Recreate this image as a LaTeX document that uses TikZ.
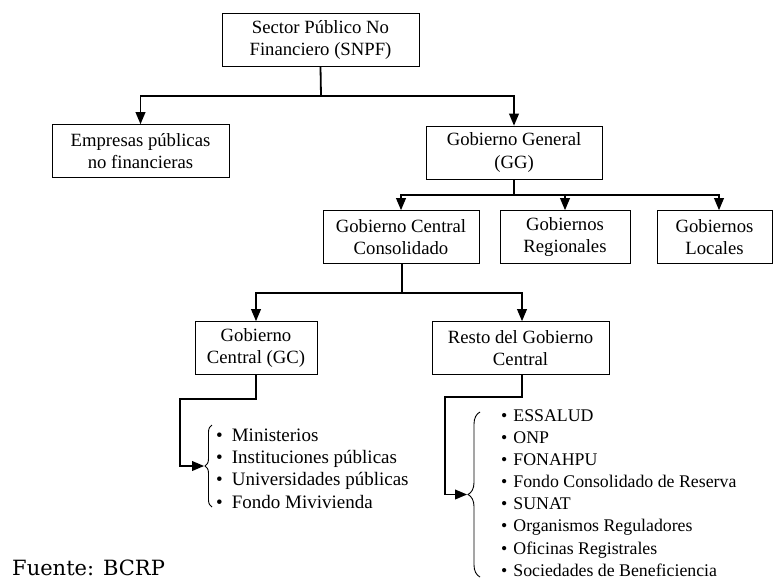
\documentclass[tikz,border=0pt]{standalone}
\usepackage{fontspec}
\setmainfont{Liberation Serif}
\newfontfamily\sourcefont{DejaVu Serif}
\usepackage{tikz}
\usetikzlibrary{positioning, arrows, decorations.pathreplacing}

\newcommand{\itm}[1]{\textbullet\hspace{#1}}

\begin{document}
\begin{tikzpicture}[
        x=1pt, y=-1pt,
        font=\fontsize{18.7}{22}\selectfont,
        org/.style={rectangle, draw=black, line width=0.8pt, align=center, inner sep=0pt, minimum width=#1, minimum height=53pt},
        link/.style={line width=1.8pt},
        arrow/.style={->, >=triangle 45, line width=1.8pt},
        curly/.style={decorate, decoration={brace, amplitude=#1}, line width=0.9pt},
        items/.style={anchor=west, align=left, inner sep=0pt}
    ]
        \useasboundingbox (0,0) rectangle (773,581);

        \node (snpf) [org=197pt] at (320.5,40) {Sector Público No\\Financiero (SNPF)};
        \node (epnf) [org=177pt] at (140.5,151) {Empresas públicas\\no financieras};
        \node (gg) [org=176pt] at (514,152.5) {Gobierno General\\(GG)};
        \node (gcc) [org=156pt] at (401,237) {Gobierno Central\\Consolidado};
        \node (gr) [org=130pt] at (565,237) {Gobiernos\\Regionales};
        \node (gl) [org=115pt] at (714.5,237) {Gobiernos\\Locales};
        \node (gc) [org=122pt] at (256,348) {Gobierno\\Central (GC)};
        \node (resto) [org=177pt] at (520.5,348) {Resto del Gobierno\\Central};

        % junctions
        \coordinate (j1) at (321,96);
        \coordinate (j2) at (514,195);
        \coordinate (j3) at (402,293);
        \coordinate (j4) at (180,399);
        \coordinate (j5) at (445,397);

        \draw[link] (snpf.south) -- (j1);
        \draw[arrow] (j1) -| (epnf.north);
        \draw[arrow] (j1) -| (gg.north);

        \draw[link] (gg.south) -- (j2);
        \draw[arrow] (j2) -| (gcc.north);
        \draw[arrow] (j2) -| (gr.north);
        \draw[arrow] (j2) -| ([xshift=4.5pt]gl.north);

        \draw[link] ([xshift=1pt]gcc.south) -- (j3);
        \draw[arrow] (j3) -| (gc.north);
        \draw[arrow] (j3) -| ([xshift=1.5pt]resto.north);

        % braces
        \draw[curly=7pt] (212,507) -- (212,425);
        \coordinate (tipgc) at (204,466);
        \draw[curly=12pt] (480,577) -- (480,412);
        \coordinate (tipresto) at (467,494.5);

        \draw[arrow] (gc.south) |- (j4) |- (tipgc);
        \draw[arrow] ([xshift=1.5pt]resto.south) |- (j5) |- (tipresto);

        \node (listgc) [items, font=\fontsize{19}{22.3}\selectfont] at (216,468.5) {\itm{9pt}Ministerios\\\itm{9pt}Instituciones públicas\\\itm{9pt}Universidades públicas\\\itm{9pt}Fondo Mivivienda};
        \node (listresto) [items, font=\fontsize{17.8}{22.1}\selectfont] at (501,493) {\itm{6pt}ESSALUD\\\itm{6pt}ONP\\\itm{6pt}FONAHPU\\\itm{6pt}Fondo Consolidado de Reserva\\\itm{6pt}SUNAT\\\itm{6pt}Organismos Reguladores\\\itm{6pt}Oficinas Registrales\\\itm{6pt}Sociedades de Beneficiencia};

        \node (fuente) [anchor=base west, inner sep=0pt, font=\sourcefont\fontsize{21}{25}\selectfont] at (12,575) {Fuente: BCRP};
    \end{tikzpicture}
\end{document}
